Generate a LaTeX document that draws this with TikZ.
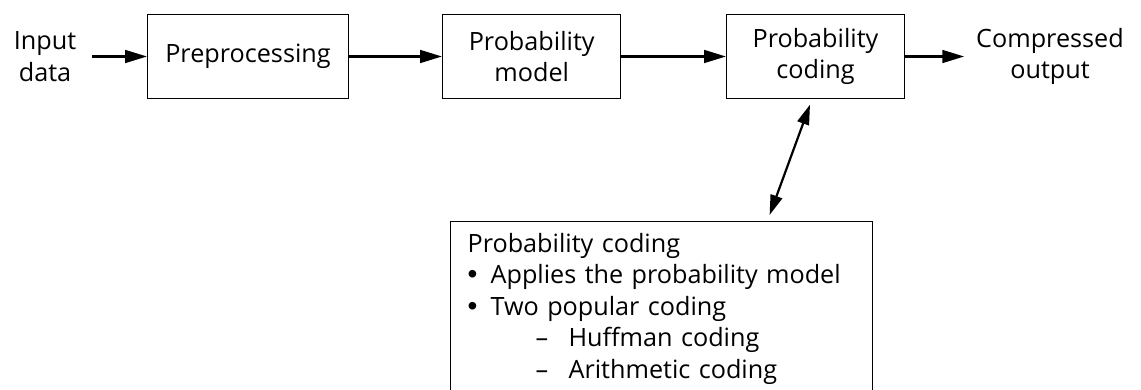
\documentclass[tikz,border=0pt]{standalone}
\usepackage{fontspec}
\setmainfont{Open Sans}
\newfontfamily\bulletfont{Liberation Sans}
\usetikzlibrary{positioning,arrows.meta}

% list bullet, a little rounder than the text font's own
\newcommand\itemdot{{\bulletfont\fontsize{14pt}{15.75pt}\selectfont\textbullet}}

\begin{document}
\begin{tikzpicture}[x=0.5pt, y=-0.5pt,
    font={\fontsize{12.6pt}{15.75pt}\selectfont},
    block/.style={draw, line width=0.6pt, align=center, minimum height=42.2pt, inner sep=0pt},
    ioText/.style={align=center, inner ysep=0pt},
    flow/.style={-{Triangle[length=11pt,width=6.3pt]}, line width=1.4pt},
    link/.style={{Triangle[length=10pt,width=6pt]}-{Triangle[length=10pt,width=6pt]}, line width=1.1pt}]

% Page frame
\useasboundingbox (0,0) rectangle (1141,390);

% Main pipeline
\node[ioText, inner xsep=7.8pt] (input) at (45,56.5) {Input\\data};
\node[block, minimum width=100.3pt] (prep) at (248,56.5) {Preprocessing};
\node[block, minimum width=89pt] (model) at (531.7,56.5) {Probability\\model};
\node[block, minimum width=88.8pt] (coding) at (815.5,56.5) {Probability\\coding};
\node[ioText, inner xsep=5.75pt] (output) at (1050,56.5) {Compressed\\output};

\draw[flow] (input.east) -- (prep.west);
\draw[flow] (prep.east) -- (model.west);
\draw[flow] (model.east) -- (coding.west);
\draw[flow] (coding.east) -- (output.west);

% Detail box for the coding stage
\node[draw, line width=0.6pt, align=left, anchor=north west, text width=194pt,
      inner xsep=8.5pt, inner ysep=6pt] (detail) at (450,220.7) {%
Probability coding\\
\makebox[11.5pt][l]{\itemdot}Applies the probability model\\
\makebox[11.5pt][l]{\itemdot}Two popular coding\\
\hspace*{34pt}\makebox[16.5pt][l]{--}Huffman coding\\
\hspace*{34pt}\makebox[16.5pt][l]{--}Arithmetic coding};

\draw[link] ([shift={(-5.5,5.3)}]coding.south) -- ([shift={(108,-5.7)}]detail.north);

\end{tikzpicture}
\end{document}
